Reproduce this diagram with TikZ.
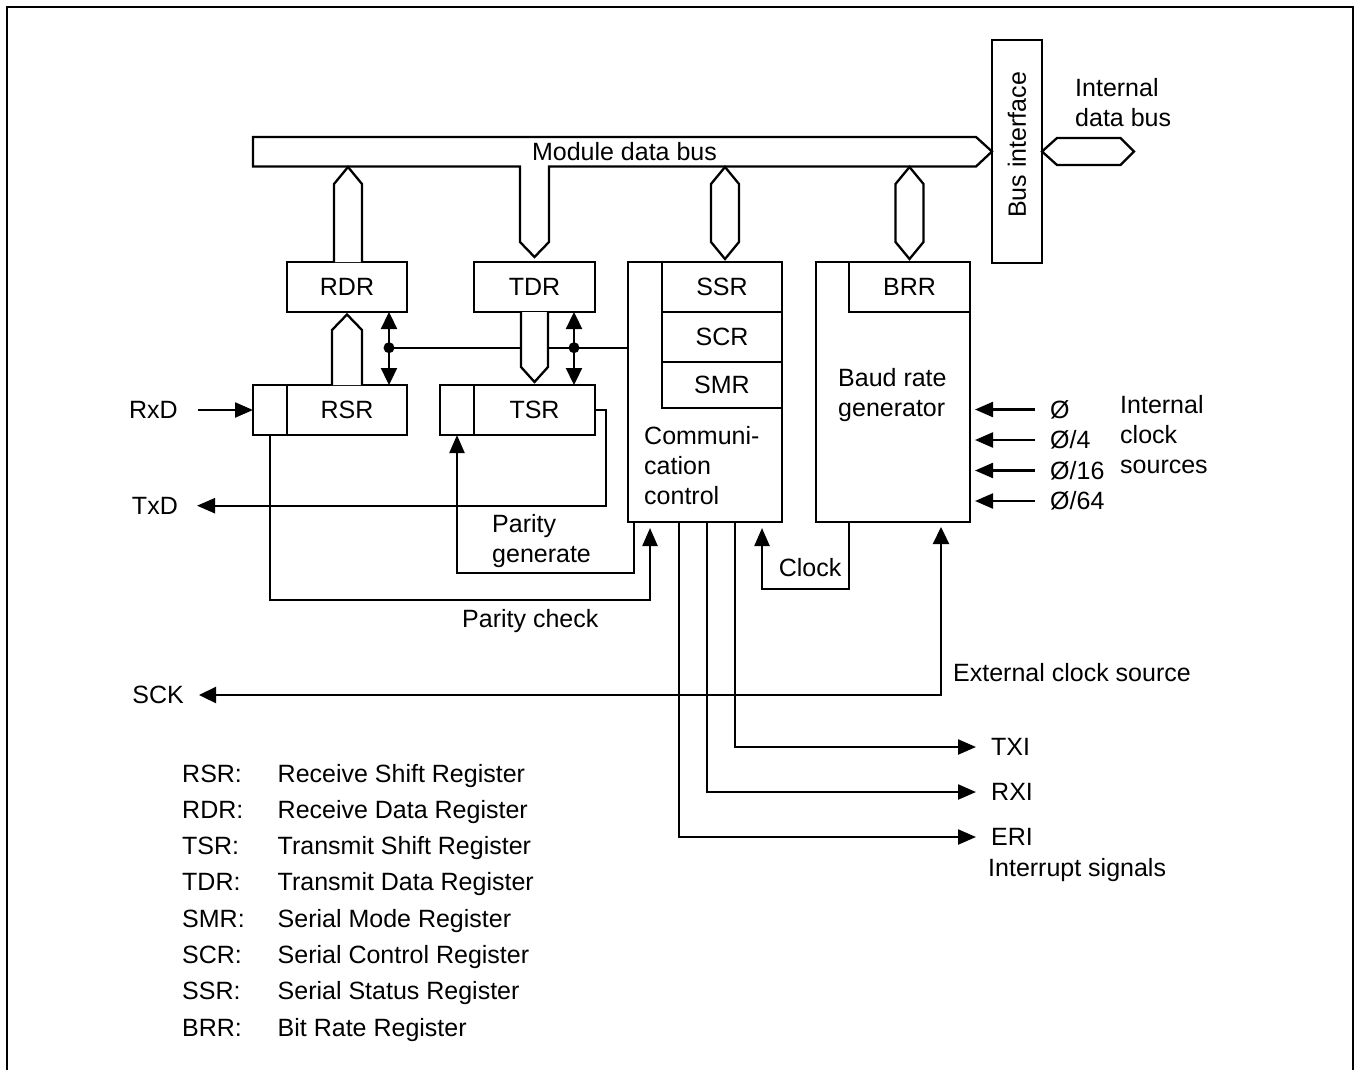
\documentclass[tikz,border=0pt]{standalone}
\usepackage{fontspec}
\setmainfont{Liberation Sans}
\usepackage{tikz}
\usetikzlibrary{arrows.meta, positioning, calc}

\begin{document}
\begin{tikzpicture}[
  x=1pt, y=1pt,
  every node/.style={font=\fontsize{25}{30}\selectfont, inner sep=0pt},
  reg/.style={rectangle, draw, line width=2.3pt, fill=white,
              minimum width=120pt, minimum height=50pt, outer sep=0pt},
  bit/.style={reg, minimum width=34pt},
  unit/.style={reg, minimum width=154pt, minimum height=260pt},
  bus/.style={draw, line width=2.3pt, fill=white, line join=miter},
  sig/.style={line width=2.3pt, -{Triangle[length=18pt, width=15pt]}},
  sigboth/.style={line width=2.3pt,
                  {Triangle[length=17pt, width=16pt]}-{Triangle[length=17pt, width=16pt]}},
]
\useasboundingbox (0,0) rectangle (1354,-1070);
\draw[line width=2pt] (7,-1070) -- (7,-7) -- (1353,-7) -- (1353,-1070);

% ── data and shift registers ──
\node[reg] (rdr) at (347,-287) {RDR};
\node[reg, minimum width=121pt] (tdr) at (534.5,-287) {TDR};
\node[bit] (rsrbit) at (270,-410) {};
\node[reg, right=0pt of rsrbit] (rsr) {RSR};
\node[bit] (tsrbit) at (457,-410) {};
\node[reg, minimum width=121pt, right=0pt of tsrbit] (tsr) {TSR};

% ── communication control / baud rate generator ──
\node[unit] (cc) at (705,-392) {};
\node[reg, anchor=north east] (ssr) at (cc.north east) {SSR};
\node[reg, below=0pt of ssr] (scr) {SCR};
\node[reg, minimum height=46pt, below=0pt of scr] (smr) {SMR};
\node[anchor=north west, align=left] (cclbl) at (644,-426) {Communi-\\cation\\control};
\node[unit] (brg) at (893,-392) {};
\node[reg, minimum width=121pt, anchor=north east] (brr) at (brg.north east) {BRR};
\node[anchor=north west, align=left] (brglbl) at (838,-368) {Baud rate\\generator};

% ── bus interface ──
\node[reg, minimum width=50pt, minimum height=223pt] (busif) at (1017,-151.5) {};
\node[rotate=90] (busiflbl) at (1017,-145) {Bus interface};
\draw[bus] (busif.east) -- ++(15,13.5) -- ++(63.5,0) -- ++(13.5,-13.5)
  -- ++(-13.5,-13.5) -- ++(-63.5,0) -- cycle;
\node[anchor=north west, align=left] (idblbl) at (1075,-78) {Internal\\data bus};

% ── module data bus ──
\draw[bus] (253,-137) -- (976,-137) -- (busif.west) -- (976,-166.5)
  -- (549,-166.5) -- (549,-242) -- ([yshift=5pt]tdr.north) -- (520,-242)
  -- (520,-166.5) -- (253,-166.5) -- cycle;
\node (mbuslbl) at (624.5,-152) {Module data bus};
\draw[bus] ([xshift=-13pt]rdr.north) -- ++(0,78) -- ++(14,17) -- ++(14,-17) -- ++(0,-78);
\foreach \r/\dx in {ssr/3, brr/0}
  \draw[bus] ([xshift=\dx pt, yshift=3pt]\r.north) -- ++(14,17) -- ++(0,58)
    -- ++(-14,17) -- ++(-14,-17) -- ++(0,-58) -- cycle;

% ── register transfers ──
\coordinate (jr) at (389,-347.7);
\coordinate (jt) at (574,-347.7);
\draw[line width=2.3pt] (jr) -- (jr -| cc.west);
\draw[sigboth] ([xshift=42pt]rdr.south) -- ([xshift=42pt]rsr.north);
\draw[sigboth] ([xshift=39.5pt]tdr.south) -- ([xshift=39.5pt]tsr.north);
\fill (jr) circle (5.5);
\fill (jt) circle (5.5);
\draw[bus] ([xshift=-15pt]rsr.north) -- ++(0,55) -- ++(15,15.5) -- ++(15,-15.5) -- ++(0,-55);
\draw[bus] ([xshift=-13.5pt]tdr.south) -- ++(0,-55) -- ++(13.5,-15) -- ++(13.5,15) -- ++(0,55);

% ── serial pins ──
\node[anchor=east] (rxd) at (178,-410) {RxD};
\node[anchor=east] (txd) at (178,-505.7) {TxD};
\node[anchor=east] (sck) at (184,-695) {SCK};
\draw[sig, shorten <=20pt] (rxd.east) -- (rsrbit.west);
\draw[sig, shorten >=19pt] (tsr.east) -- ++(11,0) |- (txd.east);

% ── parity ──
\draw[sig] ([xshift=6pt]cc.south west) -- ++(0,-51) -| (tsrbit.south);
\draw[sig] (rsrbit.south) -- ++(0,-165) -| ([xshift=22pt, yshift=-6pt]cc.south west);
\node[anchor=north west, align=left] (pgenlbl) at (492,-514) {Parity\\generate};
\node[anchor=base west] (pchklbl) at (462,-627) {Parity check};

% ── clock ──
\draw[sig] (brr.west |- brg.south) -- ++(0,-67) -| ([xshift=-20pt, yshift=-6pt]cc.south east);
\node (clklbl) at (810,-568) {Clock};
\draw[sigboth, shorten <=15pt] (sck.east) -| ([xshift=125pt, yshift=-5pt]brg.south west);
\node[anchor=west] (extlbl) at (953,-673) {External clock source};

\node[anchor=west] (phi1) at (1050,-409.5) {Ø};
\node[anchor=west] (phi4) at (1050,-440) {Ø/4};
\node[anchor=west] (phi16) at (1050,-470.5) {Ø/16};
\node[anchor=west] (phi64) at (1050,-501) {Ø/64};
\foreach \p in {phi1, phi4, phi16, phi64}
  \draw[sig, shorten <=15pt, shorten >=5pt] (\p.west) -- (\p.west -| brg.east);
\node[anchor=north west, align=left] (intlbl) at (1120,-395) {Internal\\clock\\sources};

% ── interrupts ──
\node[anchor=west] (txi) at (991,-747) {TXI};
\node[anchor=west] (rxi) at (991,-792) {RXI};
\node[anchor=west] (eri) at (991,-837) {ERI};
\foreach \dx/\irq in {107/txi, 79/rxi, 51/eri}
  \draw[sig, shorten >=15pt] ([xshift=\dx pt]cc.south west) |- (\irq.west);
\node[anchor=base west] (irqlbl) at (988,-876) {Interrupt signals};

% ── legend ──
\foreach \abbr/\desc [count=\i] in {RSR/Receive Shift Register, RDR/Receive Data Register,
    TSR/Transmit Shift Register, TDR/Transmit Data Register, SMR/Serial Mode Register,
    SCR/Serial Control Register, SSR/Serial Status Register, BRR/Bit Rate Register}{
  \node[anchor=base west] (key\i) at (182,{-782-36.3*(\i-1)}) {\abbr:};
  \node[anchor=base west] (desc\i) at (277.5,{-782-36.3*(\i-1)}) {\desc};
}

\end{tikzpicture}
\end{document}
